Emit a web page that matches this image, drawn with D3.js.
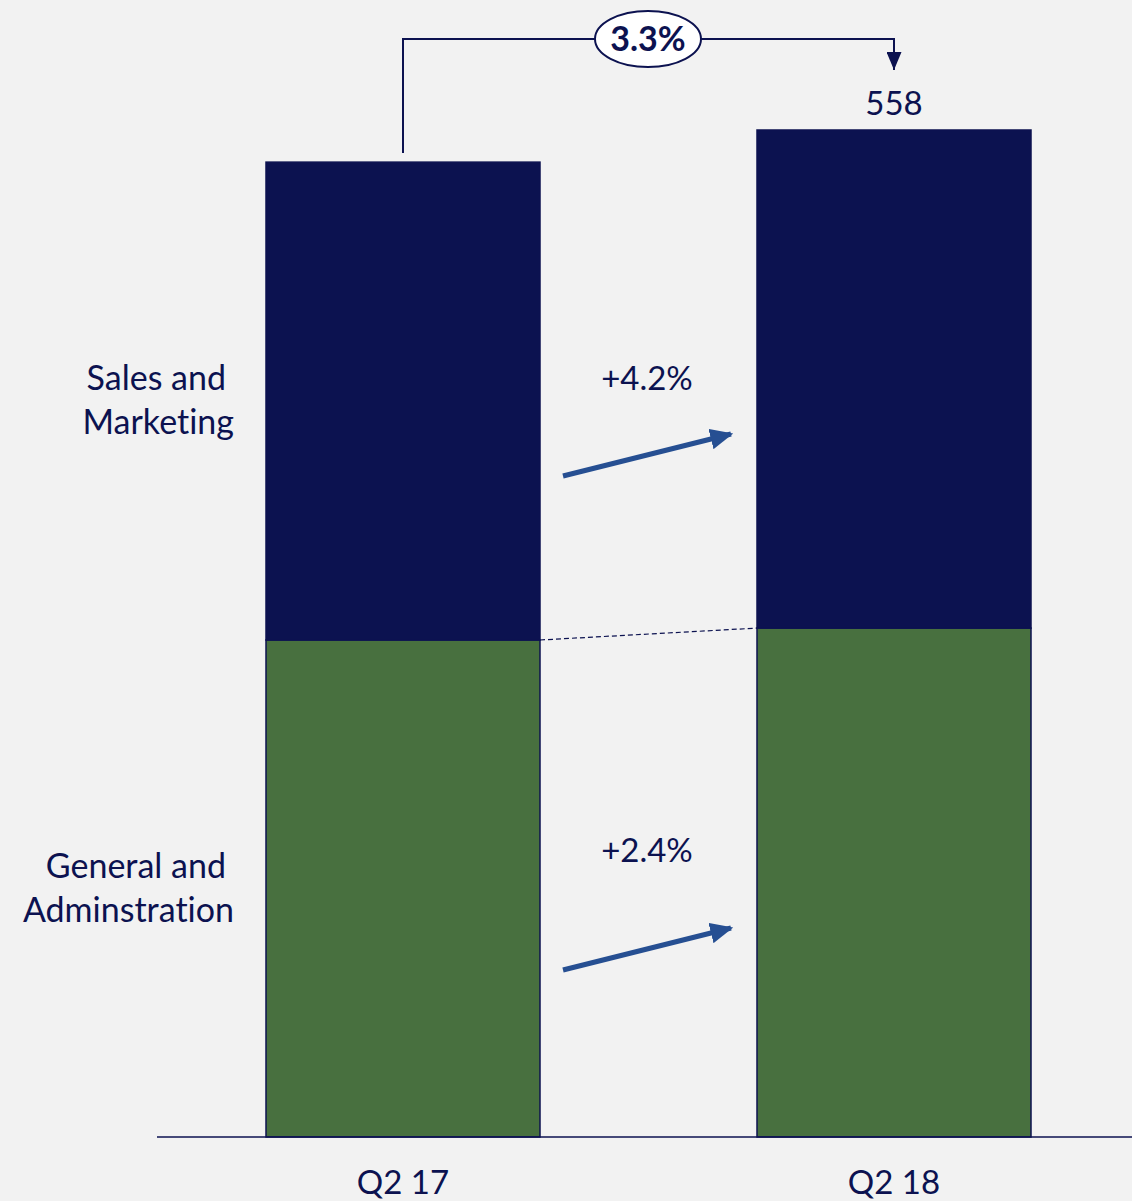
<!DOCTYPE html>
<html>
<head>
<meta charset="utf-8">
<script src="https://cdn.jsdelivr.net/npm/d3@7/dist/d3.min.js"></script>
<style>
  html, body { margin: 0; padding: 0; background: #f2f2f2; }
  svg { display: block; font-family: Lato, "Open Sans", sans-serif; font-variant-ligatures: none; }
</style>
</head>
<body>
<svg id="chart" width="1132" height="1201"></svg>
<script>
// Quarterly operating expenses, stacked by function
const quarters = ["Q2 17", "Q2 18"];
const generalAdmin = [275.4, 282.0];
const salesMarketing = [264.8, 276.0];
const totalLabel = "558";
const totalGrowth = "3.3%";
const segmentGrowth = ["+2.4%", "+4.2%"];     // G&A, S&M
const segmentNames = [["General and", "Adminstration"], ["Sales and", "Marketing"]];

const navy = "#0c1250";
const green = "#48703f";
const arrowBlue = "#264f92";
const textColor = "#0c1250";

const svg = d3.select("#chart");
const baseY = 1137;

// bar left edges and width
const xPos = d3.scaleOrdinal().domain(quarters).range([266, 757]);
const barW = 274;
const y = d3.scaleLinear().domain([0, 558]).range([baseY, 130]);

const stackData = quarters.map((q, i) => ({ q, ga: generalAdmin[i], sm: salesMarketing[i] }));
const series = d3.stack().keys(["ga", "sm"])(stackData);
const fills = { ga: green, sm: navy };

svg.append("g").selectAll("g").data(series).join("g")
  .attr("fill", d => fills[d.key])
  .selectAll("rect").data(d => d).join("rect")
  .attr("x", d => xPos(d.data.q))
  .attr("width", barW)
  .attr("y", d => y(d[1]))
  .attr("height", d => y(d[0]) - y(d[1]))
  .attr("stroke", navy)
  .attr("stroke-width", 1.5);

// baseline
svg.append("line")
  .attr("x1", 157).attr("x2", 1132).attr("y1", baseY).attr("y2", baseY)
  .attr("stroke", navy).attr("stroke-width", 1.5);

// category labels
svg.append("g").selectAll("text").data(quarters).join("text")
  .attr("x", q => xPos(q) + barW / 2)
  .attr("y", 1194)
  .attr("text-anchor", "middle")
  .attr("font-size", 33)
  .attr("fill", textColor)
  .text(q => q);

// dashed connector between G&A tops
svg.append("line")
  .attr("x1", xPos(quarters[0]) + barW).attr("y1", y(generalAdmin[0]))
  .attr("x2", xPos(quarters[1])).attr("y2", y(generalAdmin[1]))
  .attr("stroke", navy).attr("stroke-width", 1.2).attr("stroke-dasharray", "5,3");

// segment labels on the left
const leftLabelY = [878, 390];
segmentNames.forEach((lines, k) => {
  const t = svg.append("text")
    .attr("text-anchor", "end")
    .attr("font-size", 34)
    .attr("fill", textColor);
  lines.forEach((ln, j) => {
    t.append("tspan")
      .attr("x", j === 0 ? 226 : 234)
      .attr("y", leftLabelY[k] + j * 44)
      .text(ln);
  });
});

// growth arrows between bars
const defs = svg.append("defs");
defs.append("marker")
  .attr("id", "growHead").attr("viewBox", "0 0 10 10")
  .attr("refX", 9).attr("refY", 5)
  .attr("markerWidth", 4.6).attr("markerHeight", 4.2)
  .attr("orient", "auto")
  .attr("preserveAspectRatio", "none")
  .append("path").attr("d", "M0,0 L10,5 L0,10 Z").attr("fill", arrowBlue);
defs.append("marker")
  .attr("id", "totHead").attr("viewBox", "0 0 10 10")
  .attr("refX", 5).attr("refY", 10)
  .attr("markerWidth", 7.5).attr("markerHeight", 9)
  .attr("orient", "0")
  .attr("preserveAspectRatio", "none")
  .append("path").attr("d", "M0,0 L10,0 L5,10 Z").attr("fill", navy);

const growArrowY = [[970, 928], [476, 434]];
const growLabelY = [862, 390];
segmentGrowth.forEach((g, k) => {
  svg.append("line")
    .attr("x1", 563).attr("y1", growArrowY[k][0])
    .attr("x2", 731).attr("y2", growArrowY[k][1])
    .attr("stroke", arrowBlue).attr("stroke-width", 5)
    .attr("marker-end", "url(#growHead)");
  svg.append("text")
    .attr("x", 647).attr("y", growLabelY[k])
    .attr("text-anchor", "middle")
    .attr("font-size", 33)
    .attr("fill", textColor)
    .text(g);
});

// total growth bracket
const cx0 = xPos(quarters[0]) + barW / 2;
const cx1 = xPos(quarters[1]) + barW / 2;
const topY = 39;
svg.append("path")
  .attr("d", `M${cx0},153 V${topY} H${cx1} V70`)
  .attr("fill", "none").attr("stroke", navy).attr("stroke-width", 2)
  .attr("marker-end", "url(#totHead)");
svg.append("ellipse")
  .attr("cx", 648).attr("cy", topY).attr("rx", 53).attr("ry", 28)
  .attr("fill", "#ffffff").attr("stroke", navy).attr("stroke-width", 2);
svg.append("text")
  .attr("x", 648).attr("y", topY + 12)
  .attr("text-anchor", "middle")
  .attr("font-size", 34).attr("font-weight", "bold")
  .attr("fill", textColor)
  .text(totalGrowth);

// total value above the latest bar
svg.append("text")
  .attr("x", cx1).attr("y", 115)
  .attr("text-anchor", "middle")
  .attr("font-size", 33)
  .attr("fill", textColor)
  .text(totalLabel);
</script>
</body>
</html>
